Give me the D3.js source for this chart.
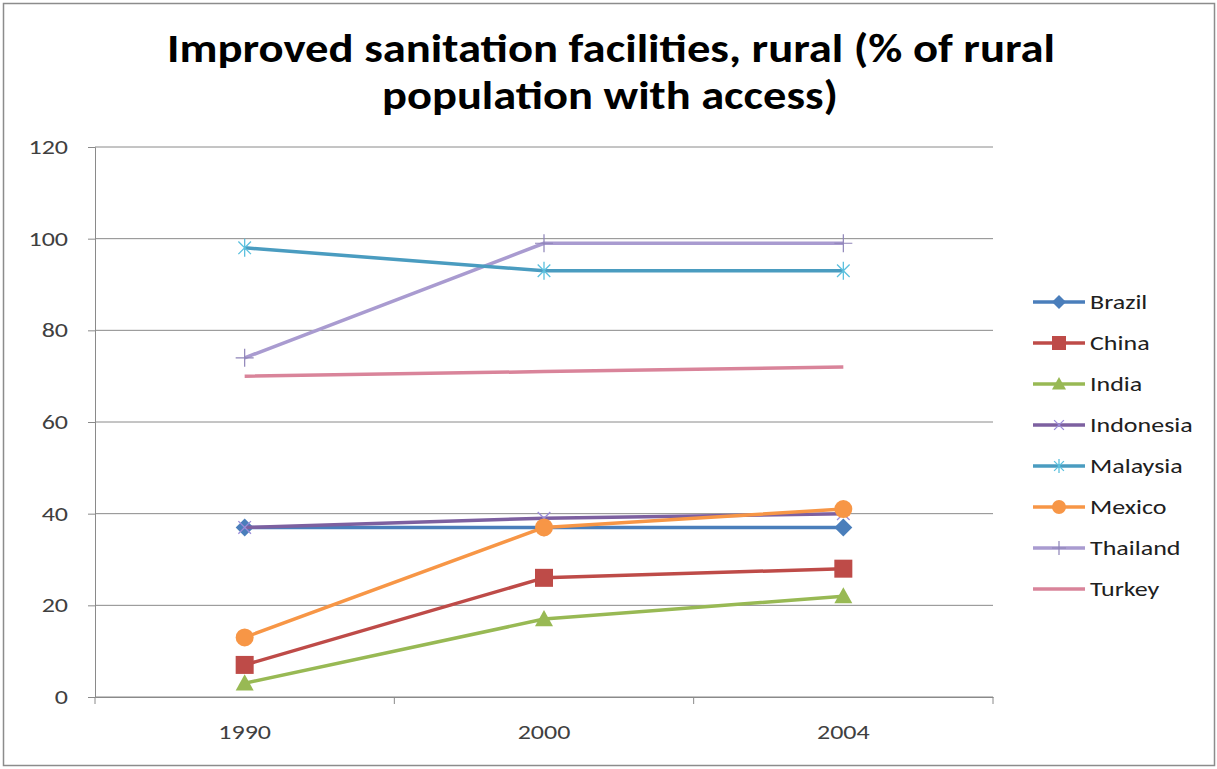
<!DOCTYPE html>
<html><head><meta charset="utf-8">
<script src="https://cdn.jsdelivr.net/npm/d3@7"></script>
<style>
body{margin:0;background:#fff;}
svg{display:block;font-family:Carlito,"Open Sans","Liberation Sans",sans-serif;}
</style></head>
<body><svg id="c" width="1217" height="769"></svg>
<script>
const years = ["1990","2000","2004"];
const yTicks = [0,20,40,60,80,100,120];
const names = ["Brazil","China","India","Indonesia","Malaysia","Mexico","Thailand","Turkey"];
const brazil = [37,37,37];
const china = [7,26,28];
const india = [3,17,22];
const indonesia = [37,39,40];
const malaysia = [98,93,93];
const mexico = [13,37,41];
const thailand = [74,99,99];
const turkey = [70,71,72];
const seriesValues = [brazil,china,india,indonesia,malaysia,mexico,thailand,turkey];
const colors = ["#4A7EBB","#BE4B48","#98B954","#7D60A0","#4A9CC0","#F79646","#A99BD0","#D9849A"];
const markerColors = ["#4A7EBB","#BE4B48","#98B954","#9A8CD8","#5BC0DE","#F79646","#A99BD0",null];
const markers = ["diamond","square","triangle","x","star","circle","plus","none"];

const STRETCH = 1.3;
function stretch(sel, f){
  sel.each(function(){
    const w = this.getComputedTextLength();
    d3.select(this).attr("textLength", w*f).attr("lengthAdjust","spacingAndGlyphs");
  });
}

const svg = d3.select("#c");
svg.append("rect").attr("x",3.5).attr("y",3.5).attr("width",1211).attr("height",762)
  .attr("fill","#fff").attr("stroke","#8c8c8c").attr("stroke-width",1.5);

svg.append("text").attr("x",611).attr("y",62).attr("text-anchor","middle")
  .attr("font-size",40).attr("font-weight","bold").attr("fill","#000")
  .attr("textLength",888).attr("lengthAdjust","spacingAndGlyphs")
  .text("Improved sanitation facilities, rural (% of rural");
svg.append("text").attr("x",610).attr("y",109).attr("text-anchor","middle")
  .attr("font-size",40).attr("font-weight","bold").attr("fill","#000")
  .attr("textLength",456).attr("lengthAdjust","spacingAndGlyphs")
  .text("population with access)");

const L=95, R=993, T=147, B=697;
const x = d3.scaleBand().domain(years).range([L,R]);
const y = d3.scaleLinear().domain([0,120]).range([B,T]);

// gridlines
svg.append("g").selectAll("line").data(yTicks).join("line")
  .attr("x1",L).attr("x2",R).attr("y1",d=>y(d)).attr("y2",d=>y(d))
  .attr("stroke","#8a8a8a").attr("stroke-width",1);

// y axis
const ya = svg.append("g").attr("transform",`translate(${L},0)`)
  .call(d3.axisLeft(y).tickValues(yTicks).tickSize(7).tickPadding(20));
ya.select(".domain").attr("stroke","#8a8a8a");
ya.selectAll(".tick line").attr("stroke","#8a8a8a");
ya.selectAll("text").attr("font-size",20).attr("fill","#404040").attr("font-family","Carlito,'Open Sans',sans-serif");
stretch(ya.selectAll("text"), STRETCH);

// x axis
const xa = svg.append("g").attr("transform",`translate(0,${B})`)
  .call(d3.axisBottom(x).tickSize(0).tickPadding(28));
xa.select(".domain").attr("stroke","#8a8a8a");
xa.selectAll("text").attr("font-size",20).attr("fill","#404040").attr("font-family","Carlito,'Open Sans',sans-serif");
stretch(xa.selectAll("text"), STRETCH);
const bounds = [L].concat(years.map(d=>x(d)+x.bandwidth()));
xa.append("g").selectAll("line").data(bounds).join("line")
  .attr("x1",d=>d).attr("x2",d=>d).attr("y1",0).attr("y2",7).attr("stroke","#8a8a8a");

function drawMarker(g, type, cx, cy, color, s){
  if(type==="diamond"){
    g.append("path").attr("d",`M${cx},${cy-s}L${cx+s},${cy}L${cx},${cy+s}L${cx-s},${cy}Z`).attr("fill",color);
  } else if(type==="square"){
    g.append("rect").attr("x",cx-s).attr("y",cy-s).attr("width",s*2).attr("height",s*2).attr("fill",color);
  } else if(type==="triangle"){
    g.append("path").attr("d",`M${cx},${cy-s}L${cx+s},${cy+s*0.8}L${cx-s},${cy+s*0.8}Z`).attr("fill",color);
  } else if(type==="circle"){
    g.append("circle").attr("cx",cx).attr("cy",cy).attr("r",s).attr("fill",color);
  } else if(type==="x"){
    const k=s*0.7;
    g.append("path").attr("d",`M${cx-k},${cy-k}L${cx+k},${cy+k}M${cx-k},${cy+k}L${cx+k},${cy-k}`).attr("stroke",color).attr("stroke-width",1.3);
  } else if(type==="star"){
    const k=s*0.7;
    g.append("path").attr("d",`M${cx-k},${cy-k}L${cx+k},${cy+k}M${cx-k},${cy+k}L${cx+k},${cy-k}M${cx},${cy-s}L${cx},${cy+s}`).attr("stroke",color).attr("stroke-width",1.3);
  } else if(type==="plus"){
    g.append("path").attr("d",`M${cx},${cy-s}L${cx},${cy+s}M${cx-s},${cy}L${cx+s},${cy}`).attr("stroke","#8e84b8").attr("stroke-width",1.2);
  }
}

const line = d3.line().x((d,i)=>x(years[i])+x.bandwidth()/2).y(d=>y(d));
const order = [7,6,4,0,3,5,1,2];
order.forEach(si=>{
  const g = svg.append("g");
  g.append("path").attr("d",line(seriesValues[si])).attr("fill","none")
    .attr("stroke",colors[si]).attr("stroke-width",3.5).attr("stroke-linejoin","round");
  seriesValues[si].forEach((v,i)=>{
    drawMarker(g, markers[si], x(years[i])+x.bandwidth()/2, y(v), markerColors[si], 9);
  });
});

// legend
const leg = svg.append("g");
names.forEach((n,i)=>{
  const ly = 302 + i*41;
  const g = leg.append("g");
  g.append("line").attr("x1",1033).attr("x2",1085).attr("y1",ly).attr("y2",ly)
    .attr("stroke",colors[i]).attr("stroke-width",3.5);
  drawMarker(g, markers[i], 1059, ly, markerColors[i], 7);
  const t = g.append("text").attr("x",1090).attr("y",ly+7).attr("font-size",20).attr("fill","#202020").text(n);
  stretch(t, STRETCH);
});
</script></body></html>
